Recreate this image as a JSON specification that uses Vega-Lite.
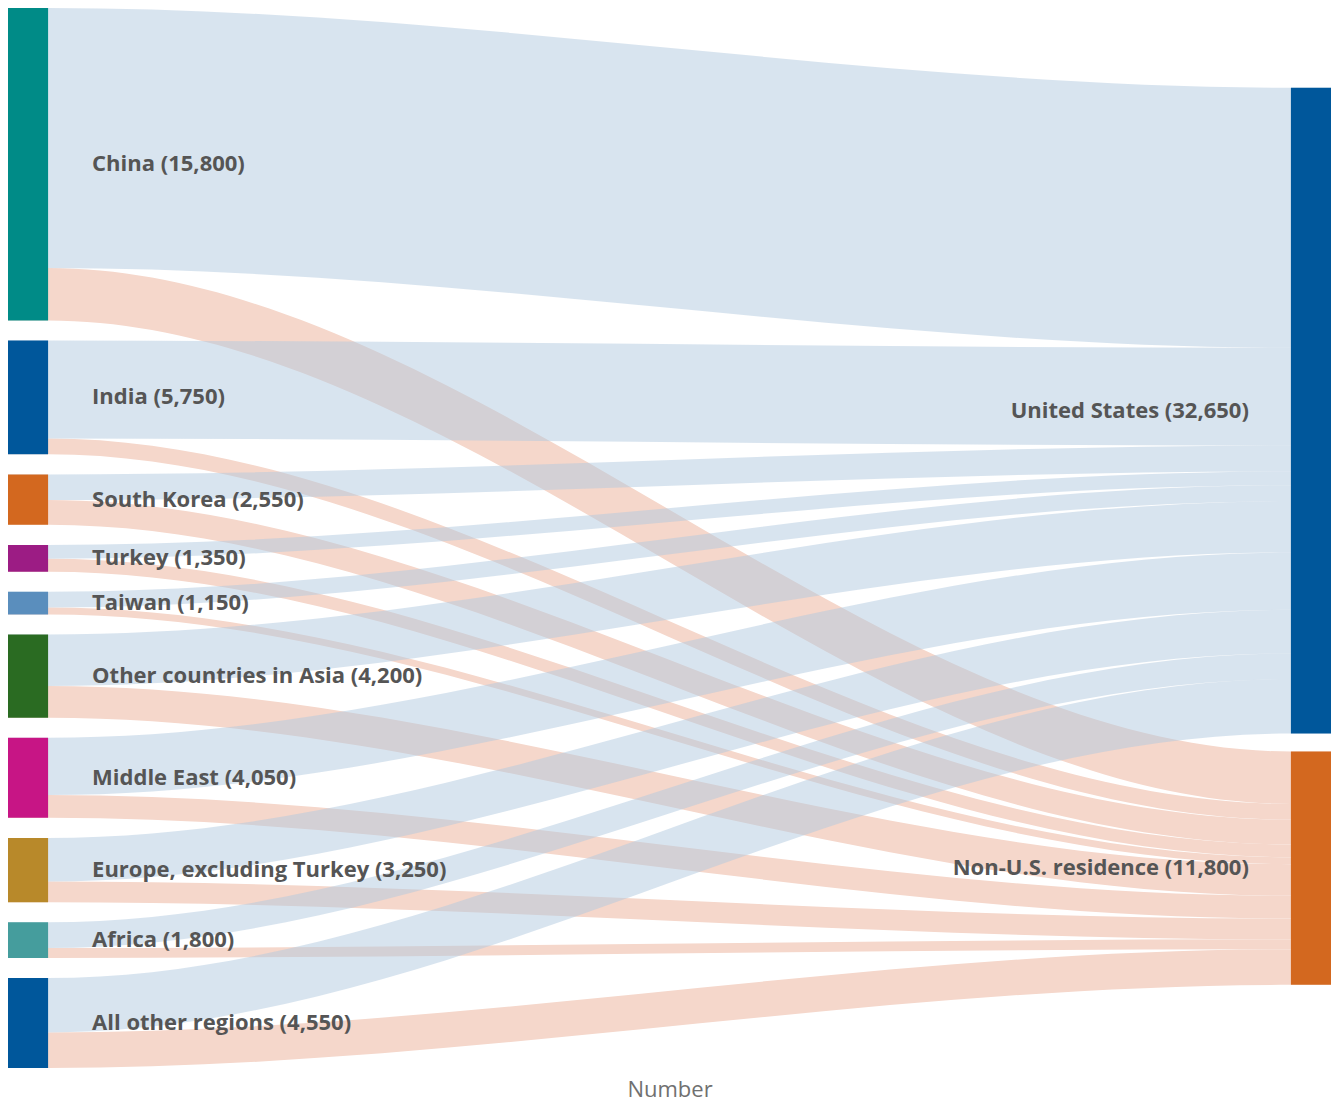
{
  "$schema": "https://vega.github.io/schema/vega-lite/v6.json",
  "width": 1323,
  "height": 1060,
  "autosize": "none",
  "padding": {"left": 8, "top": 8, "right": 0, "bottom": 33},
  "background": "white",
  "config": {"view": {"stroke": null}, "font": "Open Sans"},
  "datasets": {
    "links": [
      {"source": "China", "target": "United States", "value": 13150, "s": 0, "t": 0},
      {"source": "China", "target": "Non-U.S. residence", "value": 2650, "s": 0, "t": 1},
      {"source": "India", "target": "United States", "value": 4950, "s": 1, "t": 0},
      {"source": "India", "target": "Non-U.S. residence", "value": 800, "s": 1, "t": 1},
      {"source": "South Korea", "target": "United States", "value": 1300, "s": 2, "t": 0},
      {"source": "South Korea", "target": "Non-U.S. residence", "value": 1250, "s": 2, "t": 1},
      {"source": "Turkey", "target": "United States", "value": 700, "s": 3, "t": 0},
      {"source": "Turkey", "target": "Non-U.S. residence", "value": 650, "s": 3, "t": 1},
      {"source": "Taiwan", "target": "United States", "value": 800, "s": 4, "t": 0},
      {"source": "Taiwan", "target": "Non-U.S. residence", "value": 350, "s": 4, "t": 1},
      {"source": "Other countries in Asia", "target": "United States", "value": 2600, "s": 5, "t": 0},
      {"source": "Other countries in Asia", "target": "Non-U.S. residence", "value": 1600, "s": 5, "t": 1},
      {"source": "Middle East", "target": "United States", "value": 2900, "s": 6, "t": 0},
      {"source": "Middle East", "target": "Non-U.S. residence", "value": 1150, "s": 6, "t": 1},
      {"source": "Europe, excluding Turkey", "target": "United States", "value": 2200, "s": 7, "t": 0},
      {"source": "Europe, excluding Turkey", "target": "Non-U.S. residence", "value": 1050, "s": 7, "t": 1},
      {"source": "Africa", "target": "United States", "value": 1300, "s": 8, "t": 0},
      {"source": "Africa", "target": "Non-U.S. residence", "value": 500, "s": 8, "t": 1},
      {"source": "All other regions", "target": "United States", "value": 2750, "s": 9, "t": 0},
      {"source": "All other regions", "target": "Non-U.S. residence", "value": 1800, "s": 9, "t": 1}
    ]
  },
  "data": {"name": "links"},
  "layer": [
    {
      "transform": [
        {"window": [{"op": "sum", "field": "value", "as": "cs"}], "sort": [{"field": "s"}, {"field": "t"}]},
        {"window": [{"op": "sum", "field": "value", "as": "ct"}], "sort": [{"field": "t"}, {"field": "s"}]},
        {"calculate": "datum.cs - datum.value + datum.s * 1016", "as": "p0"},
        {"calculate": "datum.p0", "as": "p1"},
        {"calculate": "datum.ct - datum.value + datum.t * 910 + 4030", "as": "p2"},
        {"calculate": "datum.p2", "as": "p3"},
        {"fold": ["p0", "p1", "p2", "p3"], "as": ["pt", "top"]},
        {"calculate": "datum.pt === 'p0' ? 0 : datum.pt === 'p1' ? 1 : datum.pt === 'p2' ? 32 : 33", "as": "px"},
        {"calculate": "datum.top + datum.value", "as": "bottom"}
      ],
      "layer": [
        {
          "transform": [{"filter": "datum.t === 1"}],
          "mark": {"type": "area", "interpolate": "monotone", "orient": "vertical", "color": "#f5d7cb"},
          "encoding": {
            "x": {"field": "px", "type": "quantitative", "scale": {"domain": [0, 33], "nice": false, "zero": false},
                  "axis": {"title": "Number", "labels": false, "ticks": false, "domain": false, "grid": false, "titleFont": "Open Sans", "titleFontSize": 22, "titleFontWeight": "normal", "titleColor": "#707070", "titleBaseline": "alphabetic", "titlePadding": 28}},
            "y": {"field": "top", "type": "quantitative", "stack": null, "scale": {"domain": [0, 53594], "nice": false, "zero": false, "reverse": true}, "axis": null},
            "y2": {"field": "bottom"},
            "detail": {"field": "source"}
          }
        },
        {
          "transform": [{"filter": "datum.t === 0"}],
          "mark": {"type": "area", "interpolate": "monotone", "orient": "vertical", "color": "#b1c9df", "opacity": 0.5},
          "encoding": {
            "x": {"field": "px", "type": "quantitative", "title": "Number"},
            "y": {"field": "top", "type": "quantitative", "stack": null},
            "y2": {"field": "bottom"},
            "detail": {"field": "source"}
          }
        }
      ]
    },
    {
      "transform": [
        {"aggregate": [{"op": "sum", "field": "value", "as": "total"}], "groupby": ["source", "s"]},
        {"window": [{"op": "sum", "field": "total", "as": "cum"}], "sort": [{"field": "s"}]},
        {"calculate": "datum.cum - datum.total + datum.s * 1016", "as": "y0"},
        {"calculate": "datum.y0 + datum.total", "as": "y1"},
        {"calculate": "(datum.y0 + datum.y1) / 2", "as": "ym"},
        {"calculate": "datum.source + ' (' + format(datum.total, ',') + ')'", "as": "label"}
      ],
      "layer": [
        {
          "mark": {"type": "rect"},
          "encoding": {
            "x": {"datum": 0, "type": "quantitative", "title": "Number"},
            "x2": {"datum": 1},
            "y": {"field": "y0", "type": "quantitative"},
            "y2": {"field": "y1"},
            "color": {"field": "source", "type": "nominal", "legend": null,
              "scale": {"domain": ["China", "India", "South Korea", "Turkey", "Taiwan", "Other countries in Asia", "Middle East", "Europe, excluding Turkey", "Africa", "All other regions", "United States", "Non-U.S. residence"],
                        "range": ["#008b87", "#00579b", "#d3681f", "#9c1c84", "#5a8ebd", "#2a6b22", "#c71585", "#b8892a", "#459d9d", "#00579b", "#00579b", "#d3681f"]}}
          }
        },
        {
          "mark": {"type": "text", "align": "left", "baseline": "middle", "dx": 44, "font": "Open Sans", "fontSize": 22, "fontWeight": "bold", "color": "#555555"},
          "encoding": {
            "x": {"datum": 1, "type": "quantitative", "title": "Number"},
            "y": {"field": "ym", "type": "quantitative"},
            "text": {"field": "label"}
          }
        }
      ]
    },
    {
      "transform": [
        {"aggregate": [{"op": "sum", "field": "value", "as": "total"}], "groupby": ["target", "t"]},
        {"window": [{"op": "sum", "field": "total", "as": "cum"}], "sort": [{"field": "t"}]},
        {"calculate": "datum.cum - datum.total + datum.t * 910 + 4030", "as": "y0"},
        {"calculate": "datum.y0 + datum.total", "as": "y1"},
        {"calculate": "(datum.y0 + datum.y1) / 2", "as": "ym"},
        {"calculate": "datum.target + ' (' + format(datum.total, ',') + ')'", "as": "label"}
      ],
      "layer": [
        {
          "mark": {"type": "rect"},
          "encoding": {
            "x": {"datum": 32, "type": "quantitative", "title": "Number"},
            "x2": {"datum": 33},
            "y": {"field": "y0", "type": "quantitative"},
            "y2": {"field": "y1"},
            "color": {"field": "target", "type": "nominal", "legend": null}
          }
        },
        {
          "mark": {"type": "text", "align": "right", "baseline": "middle", "dx": -42, "font": "Open Sans", "fontSize": 22, "fontWeight": "bold", "color": "#555555"},
          "encoding": {
            "x": {"datum": 32, "type": "quantitative", "title": "Number"},
            "y": {"field": "ym", "type": "quantitative"},
            "text": {"field": "label"}
          }
        }
      ]
    }
  ]
}
